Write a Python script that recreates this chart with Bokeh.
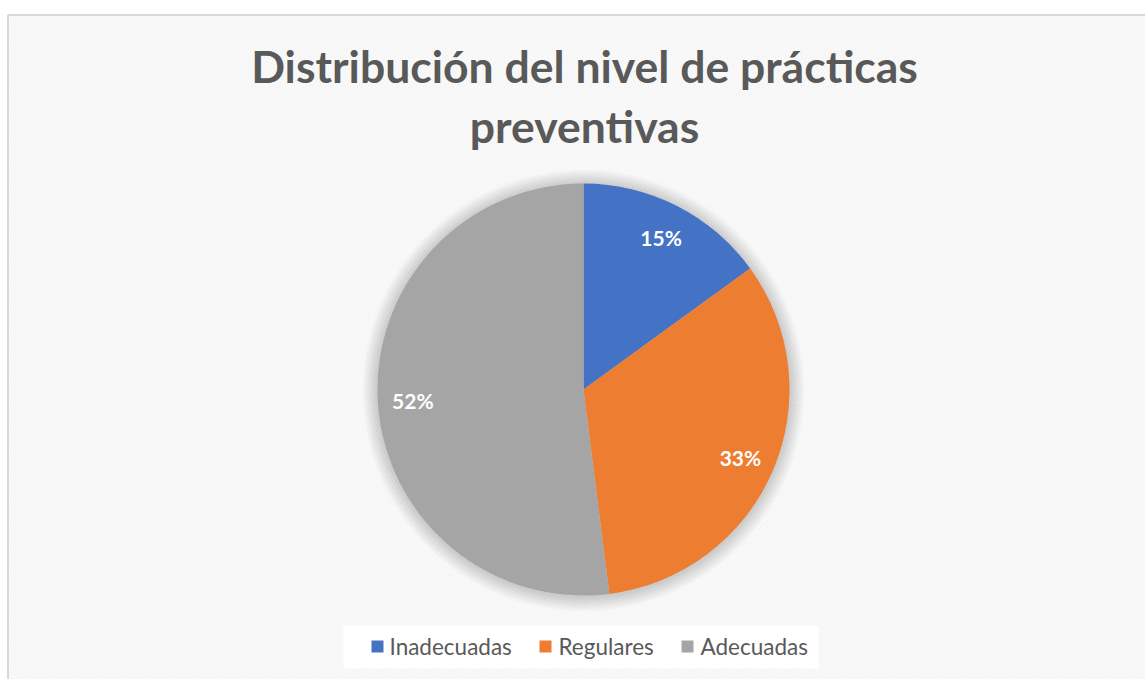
import math
from bokeh.plotting import figure
from bokeh.models import Range1d, ColumnDataSource
from bokeh.core.properties import value
from bokeh.embed import file_html
from bokeh.resources import INLINE

# ---- data ----
categories = ["Inadecuadas", "Regulares", "Adecuadas"]
percentages = [15, 33, 52]
colors = ["#4472C4", "#ED7D31", "#A5A5A5"]
title_lines = ["Distribución del nivel de prácticas", "preventivas"]

W, H = 1145, 679
p = figure(width=W, height=H, x_range=Range1d(0, W), y_range=Range1d(0, H),
           output_backend="svg", toolbar_location=None, min_border=0)
p.axis.visible = False
p.grid.visible = False
p.outline_line_color = None
p.background_fill_color = "white"
p.border_fill_color = "white"

# chart area with faint diagonal texture and light border
p.quad(left=[7.5], right=[W + 10], bottom=[-10], top=[H - 14.5],
       fill_color="white", hatch_pattern="\\", hatch_color="#f5f5f5",
       hatch_scale=6, hatch_weight=2,
       line_color="#d9d9d9", line_width=2)

cx, cy, R = 583, 290, 206

# soft shadow around pie
for i in range(1, 16):
    p.circle(x=[cx], y=[cy - 1], radius=R + i, fill_color="#7f7f7f",
             fill_alpha=0.02, line_color=None)

total = sum(percentages)
starts, ends, lx, ly, labels = [], [], [], [], []
cum = 0.0
for v in percentages:
    a0 = math.pi / 2 - 2 * math.pi * cum / total
    cum += v
    a1 = math.pi / 2 - 2 * math.pi * cum / total
    starts.append(a0)
    ends.append(a1)
    mid = (a0 + a1) / 2
    lx.append(cx + 0.83 * R * math.cos(mid))
    ly.append(cy + 0.83 * R * math.sin(mid))
    labels.append(f"{round(100 * v / total)}%")

src = ColumnDataSource(dict(start=starts, end=ends, color=colors,
                            lx=lx, ly=ly, label=labels))
p.wedge(x=cx, y=cy, radius=R, start_angle="start", end_angle="end",
        direction="clock", fill_color="color", line_color=None, source=src)

p.text(x="lx", y="ly", text="label", source=src, text_color="white",
       text_font=value("Lato"), text_font_style="bold", text_font_size="21px",
       text_align="center", text_baseline="middle")

# title
p.text(x=[584, 584], y=[H - 65, H - 125], text=title_lines, text_color="#595959",
       text_font=value("Lato"), text_font_style="bold", text_font_size="44.5px",
       text_align="center", text_baseline="middle")

# legend
p.quad(left=[343], right=[818], bottom=[11], top=[54], fill_color="white",
       line_color=None)
leg_sq_x = [377, 545, 687]
leg_tx_x = [389, 558, 700]
p.rect(x=leg_sq_x, y=[33] * 3, width=12, height=12, fill_color=colors,
       line_color=None)
p.text(x=leg_tx_x, y=[33] * 3, text=categories, text_color="#595959",
       text_font=value("Lato"), text_font_size="22.5px",
       text_align="left", text_baseline="middle")

open("out.html", "w").write(file_html(p, INLINE))
